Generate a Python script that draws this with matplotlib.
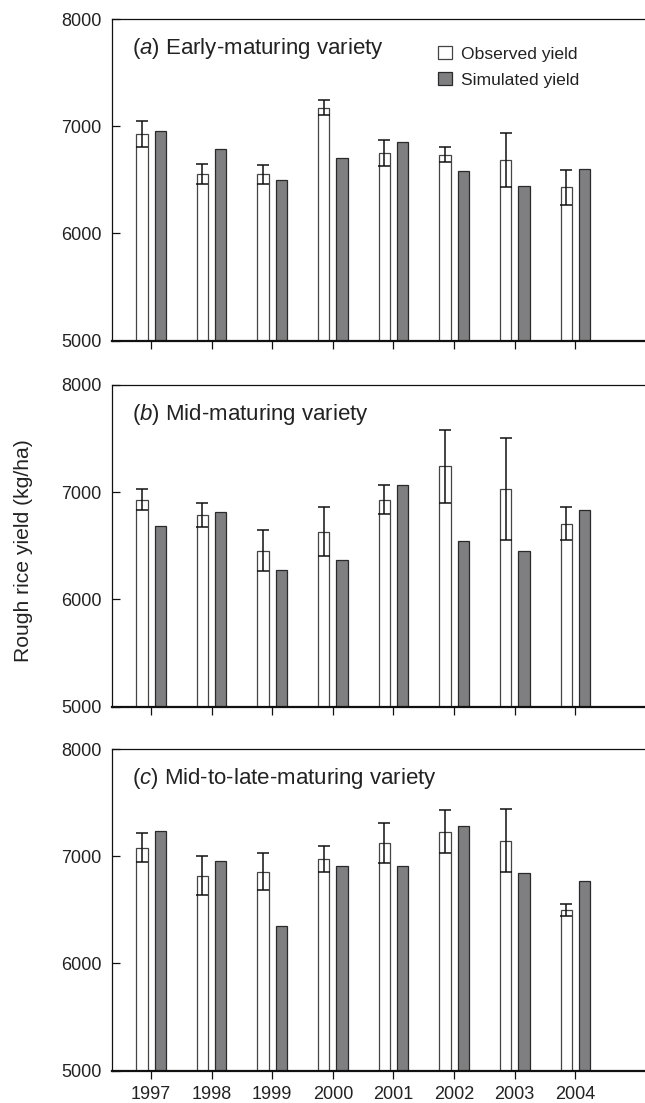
import matplotlib
matplotlib.use("Agg")
import matplotlib.pyplot as plt
import numpy as np

plt.rcParams['font.family'] = ['Liberation Sans', 'DejaVu Sans']
plt.rcParams['mathtext.fontset'] = 'custom'
plt.rcParams['mathtext.it'] = 'Liberation Sans:italic'
plt.rcParams['mathtext.rm'] = 'Liberation Sans'

years = ['1997', '1998', '1999', '2000', '2001', '2002', '2003', '2004']

a_obs = [6928, 6551, 6551, 7174, 6748, 6735, 6682, 6430]
a_err = [120, 94, 86, 73, 123, 68, 251, 164]
a_sim = [6956, 6791, 6498, 6704, 6850, 6579, 6439, 6598]

b_obs = [6932, 6788, 6456, 6633, 6932, 7240, 7028, 6708]
b_err = [101, 113, 188, 229, 133, 336, 478, 154]
b_sim = [6683, 6813, 6272, 6369, 7065, 6543, 6453, 6835]

c_obs = [7078, 6817, 6857, 6975, 7124, 7230, 7146, 6497]
c_err = [135, 182, 170, 118, 186, 200, 297, 58]
c_sim = [7236, 6957, 6348, 6907, 6913, 7283, 6848, 6770]

titles = [('a', 'Early-maturing variety'),
          ('b', 'Mid-maturing variety'),
          ('c', 'Mid-to-late-maturing variety')]
yticks = [5000, 6000, 7000, 8000]

W, H = 645, 1103
fig = plt.figure(figsize=(W / 100, H / 100), dpi=100)

panels = [(19, 340.7, a_obs, a_err, a_sim),
          (385, 706.7, b_obs, b_err, b_sim),
          (749, 1070.7, c_obs, c_err, c_sim)]

left_px, right_px = 112.3, 650
x = np.arange(len(years))
bw = 0.187
off = 0.151
txt = '#222222'

for i, (top, bot, obs, err, sim) in enumerate(panels):
    ax = fig.add_axes([left_px / W, 1 - bot / H, (right_px - left_px) / W, (bot - top) / H])
    bo = ax.bar(x - off, obs, width=bw, color='white', edgecolor='#444444', linewidth=0.9,
                label='Observed yield', zorder=2)
    bs = ax.bar(x + off, sim, width=bw, color='#7f7f82', edgecolor='#2a2a2a', linewidth=0.9,
                label='Simulated yield', zorder=2)
    ax.errorbar(x - off, obs, yerr=err, fmt='none', ecolor='#111111', elinewidth=1.1,
                capsize=4, capthick=1.1, zorder=3)
    ax.set_ylim(5000, 8000)
    ax.set_xlim(-0.639, (right_px - 151) / 60.62)
    ax.set_yticks(yticks)
    ax.set_xticks(x)
    if i == 2:
        ax.set_xticklabels(years)
    else:
        ax.set_xticklabels([])
    ax.tick_params(axis='y', direction='in', length=6, width=0.9, pad=7.6,
                   labelsize=13, labelcolor=txt, color='#111111')
    ax.tick_params(axis='x', direction='out', length=5.5, width=0.9, pad=5.5,
                   labelsize=13, labelcolor=txt, color='#111111')
    ax.spines['right'].set_visible(False)
    ax.spines['left'].set_linewidth(0.9)
    ax.spines['top'].set_linewidth(0.9)
    ax.spines['bottom'].set_linewidth(1.6)
    for s in ax.spines.values():
        s.set_color('#111111')
    letter, name = titles[i]
    ax.text(0.037, 0.907, '(' + r'$\it{' + letter + '}$' + ') ' + name,
            transform=ax.transAxes, fontsize=16, color=txt, ha='left', va='center')
    if i == 0:
        ax.legend(handles=[bo, bs], loc='upper left', bbox_to_anchor=(0.605, 0.915),
                  frameon=False, fontsize=12.6, handlelength=0.85, handleheight=0.7,
                  handletextpad=0.5, labelspacing=0.62, borderpad=0, borderaxespad=0,
                  labelcolor=txt)

fig.text(24 / W, 1 - 551 / H, 'Rough rice yield (kg/ha)', rotation=90, ha='center',
         va='center', fontsize=15.2, color=txt)

fig.savefig('out.png', dpi=100)
